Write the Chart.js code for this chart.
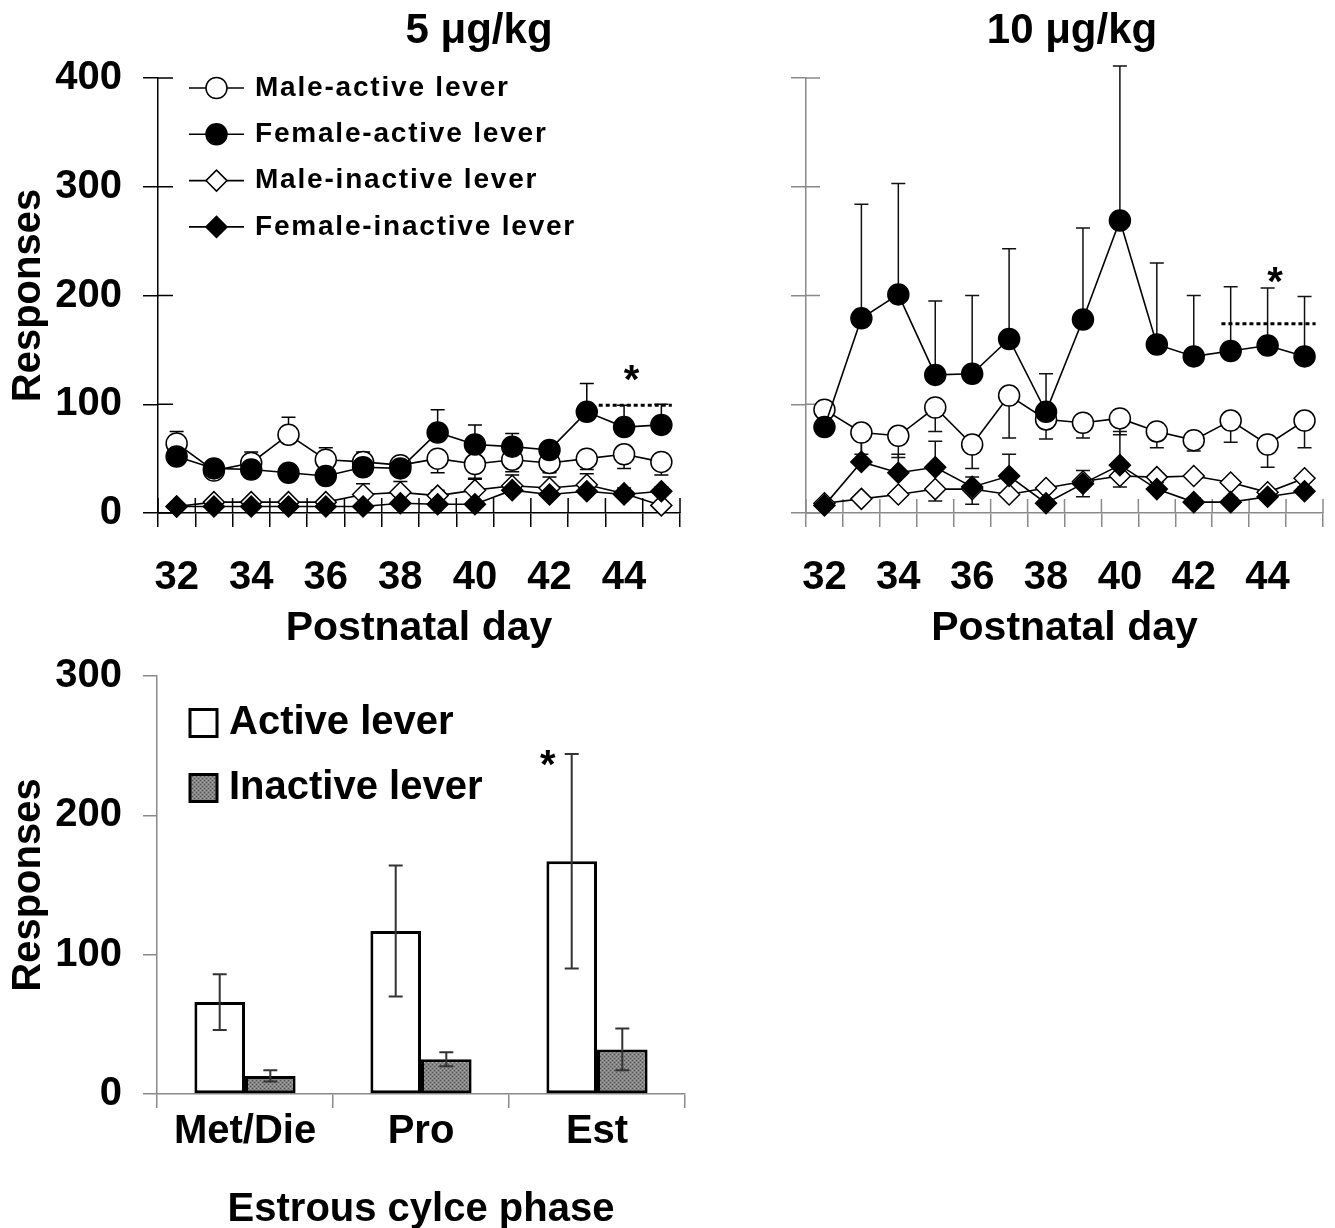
<!DOCTYPE html>
<html>
<head>
<meta charset="utf-8">
<script src="https://cdn.jsdelivr.net/npm/chart.js@4.4.1/dist/chart.umd.min.js"></script>
<style>
  html, body { margin: 0; background: #fff; }
  body { width: 1335px; height: 1228px; position: relative; overflow: hidden; }
  canvas { position: absolute; }
  #c5 { left: 0; top: 0; }
  #c10 { left: 680px; top: 0; }
  #cEst { left: 0; top: 628px; }
</style>
</head>
<body>
<canvas id="c5" width="700" height="660"></canvas>
<canvas id="c10" width="655" height="660"></canvas>
<canvas id="cEst" width="700" height="600"></canvas>
<script>
// ---------- DATA ----------
const days = ['32', '33', '34', '35', '36', '37', '38', '39', '40', '41', '42', '43', '44', '45'];

// 5 ug/kg (errors: + drawn upward, - drawn downward)
const maleActive5 = [64, 39, 46, 72, 49, 47, 44, 50, 45, 49, 46, 50, 54, 47];
const maleActive5Err = [11, 0, 10, 16, 11, 9, 7, -13, -13, -11, -9, -10, -13, -12];
const femaleActive5 = [52, 41, 40, 37, 34, 42, 41, 74, 63, 61, 58, 93, 79, 81];
const femaleActive5Err = [6, 4, 6, 4, 5, 5, 4, 21, 18, 12, 5, 26, 20, 19];
const maleInactive5 = [6, 10, 10, 10, 10, 17, 19, 16, 21, 25, 23, 26, 18, 7];
const maleInactive5Err = [2, 3, 3, 3, 3, 10, 10, 5, 10, 10, 10, 10, 5, 3];
const femaleInactive5 = [6, 6, 6, 6, 6, 6, 9, 8, 8, 21, 17, 20, 17, 20];
const femaleInactive5Err = [2, 2, 2, 2, 2, 2, 3, 3, 3, 6, 5, 5, 4, 4];

// 10 ug/kg
const maleActive10 = [95, 74, 71, 97, 63, 108, 86, 83, 87, 75, 67, 85, 63, 85];
const maleActive10Err = [-8, -20, -20, -22, -22, -39, -18, -14, -15, -15, -10, -20, -21, -25];
const femaleActive10 = [79, 179, 201, 127, 128, 160, 93, 178, 269, 155, 144, 149, 154, 144];
const femaleActive10Err = [8, 105, 102, 68, 72, 83, 35, 84, 142, 75, 56, 59, 53, 55];
const maleInactive10 = [9, 13, 17, 22, 22, 17, 23, 29, 34, 33, 34, 28, 19, 32];
const maleInactive10Err = [-3, -3, -3, -11, -14, -3, -3, -14, -10, -3, -3, -3, -3, -3];
const femaleInactive10 = [7, 47, 37, 42, 24, 34, 9, 27, 44, 22, 10, 10, 15, 20];
const femaleInactive10Err = [3, 31, 17, 24, 9, 20, 4, 12, 31, 6, 4, 4, 4, 4];

// estrous phase
const phases = ['Met/Die', 'Pro', 'Est'];
const activeLever = [66, 117, 167];
const activeLeverErr = [20, 47, 77];
const inactiveLever = [13, 25, 32];
const inactiveLeverErr = [4, 5, 15];

const yTicks = [0, 100, 200, 300, 400];

// ---------- GLOBALS ----------
const FONT = "'Liberation Sans', Arial, sans-serif";
const GRAY = '#8a8a8a';
Chart.defaults.font.family = FONT;
Chart.defaults.color = '#000';
Chart.defaults.animation = false;
Chart.defaults.plugins.legend.display = false;
Chart.defaults.plugins.tooltip.enabled = false;

// ---------- PLUGINS ----------
function drawMarker(ctx, style, x, y, r, fill) {
    ctx.beginPath();
    if (style === 'circle') {
        ctx.arc(x, y, r, 0, Math.PI * 2);
    } else {
        ctx.moveTo(x - r, y); ctx.lineTo(x, y - r); ctx.lineTo(x + r, y); ctx.lineTo(x, y + r);
        ctx.closePath();
    }
    ctx.fillStyle = fill; ctx.fill();
    ctx.stroke();
}

// text with manual tracking (canvas letterSpacing is not everywhere)
function spacedText(ctx, text, x, y, spacing) {
    for (const ch of text) {
        ctx.fillText(ch, x, y);
        x += ctx.measureText(ch).width + spacing;
    }
}

function strokeErr(chart, opts) {
    const ctx = chart.ctx, ys = chart.scales.y;
    ctx.save();
    ctx.strokeStyle = opts.color || '#000';
    ctx.lineWidth = opts.width || 1.5;
    chart.data.datasets.forEach((ds, di) => {
        if (!ds.errors) return;
        chart.getDatasetMeta(di).data.forEach((el, i) => {
            const e = ds.errors[i];
            if (!e) return;
            const v = ds.data[i];
            const ends = opts.both ? [v + e, v - e] : [v + e];
            const y0 = ys.getPixelForValue(v);
            ends.forEach(end => {
                const y1 = ys.getPixelForValue(end);
                ctx.beginPath();
                ctx.moveTo(el.x, y0); ctx.lineTo(el.x, y1);
                ctx.moveTo(el.x - opts.cap, y1); ctx.lineTo(el.x + opts.cap, y1);
                ctx.stroke();
            });
        });
    });
    ctx.restore();
}

const errorBars = {
    id: 'errorBars',
    beforeDatasetsDraw(chart, args, opts) { if (opts.under) strokeErr(chart, opts); },
    afterDatasetsDraw(chart, args, opts) { if (opts.under === false) strokeErr(chart, opts); }
};

// inner half of the crossing tick marks
const innerTicks = {
    id: 'innerTicks',
    beforeDatasetsDraw(chart, args, opts) {
        if (!opts.len) return;
        const { x, y } = chart.scales, ctx = chart.ctx;
        ctx.save();
        ctx.strokeStyle = opts.color; ctx.lineWidth = opts.width;
        ctx.beginPath();
        y.ticks.forEach(t => {
            const py = y.getPixelForValue(t.value);
            ctx.moveTo(y.right, py); ctx.lineTo(y.right + opts.len, py);
        });
        for (let i = 0; i <= x.ticks.length; i++) {
            const px = x.getPixelForValue(i - 0.5);
            ctx.moveTo(px, x.top); ctx.lineTo(px, x.top - opts.len);
        }
        ctx.stroke();
        ctx.restore();
    }
};

const panelTitle = {
    id: 'panelTitle',
    afterDraw(chart, args, opts) {
        if (!opts.text) return;
        const ctx = chart.ctx;
        ctx.save();
        ctx.font = `bold ${opts.size}px ${FONT}`;
        ctx.fillStyle = '#000'; ctx.textAlign = 'center'; ctx.textBaseline = 'middle';
        ctx.fillText(opts.text, opts.x, opts.y);
        ctx.restore();
    }
};

// significance: dotted line + star, in data units
const sigMark = {
    id: 'sigMark',
    afterDraw(chart, args, opts) {
        if (!opts.star) return;
        const { x, y } = chart.scales, ctx = chart.ctx;
        ctx.save();
        if (opts.line) {
            ctx.strokeStyle = '#000'; ctx.lineWidth = 3; ctx.setLineDash([4, 3]);
            const py = y.getPixelForValue(opts.line[2]);
            ctx.beginPath();
            ctx.moveTo(x.getPixelForValue(opts.line[0]), py);
            ctx.lineTo(x.getPixelForValue(opts.line[1]), py);
            ctx.stroke();
        }
        ctx.font = `bold ${opts.size}px ${FONT}`;
        ctx.fillStyle = '#000'; ctx.textAlign = 'center'; ctx.textBaseline = 'alphabetic';
        ctx.fillText('*', x.getPixelForValue(opts.star[0]), y.getPixelForValue(opts.star[1]) + opts.size * 0.57);
        ctx.restore();
    }
};

const lineLegend = {
    id: 'lineLegend',
    afterDraw(chart, args, opts) {
        if (!opts.show) return;
        const ctx = chart.ctx;
        ctx.save();
        chart.data.datasets.forEach((ds, i) => {
            const cy = opts.top + i * opts.gap;
            ctx.strokeStyle = '#000'; ctx.lineWidth = 1.6;
            ctx.beginPath(); ctx.moveTo(opts.x0, cy); ctx.lineTo(opts.x1, cy); ctx.stroke();
            ctx.lineWidth = 1.5;
            drawMarker(ctx, ds.pointStyle, (opts.x0 + opts.x1) / 2, cy, ds.pointRadius, ds.pointBackgroundColor);
            ctx.font = `bold ${opts.size}px ${FONT}`;
            ctx.fillStyle = '#000'; ctx.textAlign = 'left'; ctx.textBaseline = 'middle';
            spacedText(ctx, ds.label, opts.textX, cy, opts.spacing);
        });
        ctx.restore();
    }
};

const boxLegend = {
    id: 'boxLegend',
    afterDraw(chart, args, opts) {
        if (!opts.show) return;
        const ctx = chart.ctx;
        ctx.save();
        chart.data.datasets.forEach((ds, i) => {
            const cy = opts.top + i * opts.gap;
            ctx.fillStyle = ds.backgroundColor;
            ctx.fillRect(opts.x, cy - opts.box / 2, opts.box, opts.box);
            ctx.strokeStyle = '#000'; ctx.lineWidth = 3;
            ctx.strokeRect(opts.x, cy - opts.box / 2, opts.box, opts.box);
            ctx.font = `bold ${opts.size}px ${FONT}`;
            ctx.fillStyle = '#000'; ctx.textAlign = 'left'; ctx.textBaseline = 'middle';
            ctx.fillText(ds.label, opts.textX, cy);
        });
        ctx.restore();
    }
};

Chart.register(errorBars, innerTicks, panelTitle, sigMark, lineLegend, boxLegend);

// ---------- LINE PANELS ----------
function lineSets(ma, maE, fa, faE, mi, miE, fi, fiE) {
    const base = { borderColor: '#000', borderWidth: 1.6, pointBorderColor: '#000', pointBorderWidth: 1.5, tension: 0, clip: false };
    return [
        { ...base, label: 'Male-active lever', data: ma, errors: maE, pointStyle: 'circle', pointRadius: 10.5, pointBackgroundColor: '#fff', order: 1 },
        { ...base, label: 'Female-active lever', data: fa, errors: faE, pointStyle: 'circle', pointRadius: 10.5, pointBackgroundColor: '#000', order: 0 },
        { ...base, label: 'Male-inactive lever', data: mi, errors: miE, pointStyle: 'rectRot', pointRadius: 10.5, pointBackgroundColor: '#fff', order: 3 },
        { ...base, label: 'Female-inactive lever', data: fi, errors: fiE, pointStyle: 'rectRot', pointRadius: 10.5, pointBackgroundColor: '#000', order: 2 }
    ];
}

function lineOptions(axisColor, yWidth, withLabels, rightPad) {
    return {
        responsive: false,
        layout: { padding: { left: 0, top: 78, right: rightPad, bottom: 0 } },
        scales: {
            x: {
                type: 'category', offset: true,
                grid: { offset: true, drawOnChartArea: false, tickLength: 14, color: axisColor, lineWidth: 1.5 },
                border: { color: axisColor, width: 1.5 },
                ticks: { autoSkip: false, maxRotation: 0, padding: 27, font: { size: 40, weight: 'bold' },
                         callback: (v, i) => (i % 2 ? '' : days[i]) },
                title: { display: true, text: 'Postnatal day', font: { size: 41, weight: 'bold', lineHeight: 1.2 },
                         padding: { top: 0, bottom: 7 } },
                afterFit: s => { s.height = 147; }
            },
            y: {
                min: 0, max: 400,
                afterBuildTicks: s => { s.ticks = yTicks.map(v => ({ value: v })); },
                grid: { drawOnChartArea: false, tickLength: 15, color: axisColor, lineWidth: 1.5 },
                border: { color: axisColor, width: 1.5 },
                ticks: { display: withLabels, padding: 21, font: { size: 40, weight: 'bold' } },
                title: { display: withLabels, text: 'Responses', font: { size: 40, weight: 'bold', lineHeight: 1.2 },
                         padding: { top: 5, bottom: 0 } },
                afterFit: s => { s.width = yWidth; }
            }
        }
    };
}

const opt5 = lineOptions('#000', 158, true, 20);
opt5.plugins = {
    errorBars: { under: true, cap: 7, width: 1.5, color: '#000' },
    innerTicks: { len: 15, color: '#000', width: 1.5 },
    panelTitle: { text: '5 \u03bcg/kg', x: 479, y: 31, size: 42 },
    sigMark: { line: [11.32, 13.28, 99], star: [12.2, 131], size: 40 },
    lineLegend: { show: true, top: 88, gap: 46.3, x0: 189, x1: 244, textX: 255, size: 28, spacing: 1.8 }
};
new Chart(document.getElementById('c5'), {
    type: 'line',
    data: { labels: days, datasets: lineSets(maleActive5, maleActive5Err, femaleActive5, femaleActive5Err,
                                             maleInactive5, maleInactive5Err, femaleInactive5, femaleInactive5Err) },
    options: opt5
});

const opt10 = lineOptions(GRAY, 126, false, 7);
opt10.plugins = {
    errorBars: { under: true, cap: 7, width: 1.5, color: '#111' },
    innerTicks: { len: 14, color: GRAY, width: 1.5 },
    panelTitle: { text: '10 \u03bcg/kg', x: 392, y: 31, size: 42 },
    sigMark: { line: [10.75, 13.3, 174], star: [12.2, 221], size: 40 }
};
new Chart(document.getElementById('c10'), {
    type: 'line',
    data: { labels: days, datasets: lineSets(maleActive10, maleActive10Err, femaleActive10, femaleActive10Err,
                                             maleInactive10, maleInactive10Err, femaleInactive10, femaleInactive10Err) },
    options: opt10
});

// ---------- ESTROUS BAR PANEL ----------
function stipple() {
    const c = document.createElement('canvas');
    c.width = 4; c.height = 4;
    const g = c.getContext('2d');
    g.fillStyle = '#858585'; g.fillRect(0, 0, 4, 4);
    g.fillStyle = '#505050'; g.fillRect(0, 0, 1, 1); g.fillRect(2, 2, 1, 1);
    g.fillStyle = '#a8a8a8'; g.fillRect(2, 0, 1, 1); g.fillRect(0, 2, 1, 1);
    return g.createPattern(c, 'repeat');
}

new Chart(document.getElementById('cEst'), {
    type: 'bar',
    data: {
        labels: phases,
        datasets: [
            { label: 'Active lever', data: activeLever, errors: activeLeverErr, backgroundColor: '#fff',
              borderColor: '#000', borderWidth: 3, borderSkipped: false, barPercentage: 1, categoryPercentage: 0.575 },
            { label: 'Inactive lever', data: inactiveLever, errors: inactiveLeverErr, backgroundColor: stipple(),
              borderColor: '#000', borderWidth: 3, borderSkipped: false, barPercentage: 1, categoryPercentage: 0.575 }
        ]
    },
    options: {
        responsive: false,
        layout: { padding: { left: 0, top: 48, right: 15, bottom: 0 } },
        scales: {
            x: {
                grid: { offset: true, drawOnChartArea: false, tickLength: 14, color: GRAY, lineWidth: 1.5 },
                border: { color: GRAY, width: 1.5 },
                ticks: { padding: 0, font: { size: 40, weight: 'bold' } },
                title: { display: true, text: 'Estrous cylce phase', font: { size: 40, weight: 'bold', lineHeight: 1 },
                         padding: { top: 0, bottom: -2 } },
                afterFit: s => { s.height = 134; }
            },
            y: {
                min: 0, max: 300,
                afterBuildTicks: s => { s.ticks = yTicks.slice(0, 4).map(v => ({ value: v })); },
                grid: { drawOnChartArea: false, tickLength: 14, color: GRAY, lineWidth: 1.5 },
                border: { color: GRAY, width: 1.5 },
                ticks: { padding: 21, font: { size: 40, weight: 'bold' } },
                title: { display: true, text: 'Responses', font: { size: 40, weight: 'bold', lineHeight: 1.2 },
                         padding: { top: 5, bottom: 0 } },
                afterFit: s => { s.width = 157; }
            }
        },
        plugins: {
            errorBars: { under: false, both: true, cap: 7, width: 2, color: '#333' },
            sigMark: { star: [1.72, 243], size: 40 },
            boxLegend: { show: true, top: 95, gap: 65, x: 190, box: 27, textX: 229, size: 40 }
        }
    }
});
</script>
</body>
</html>
